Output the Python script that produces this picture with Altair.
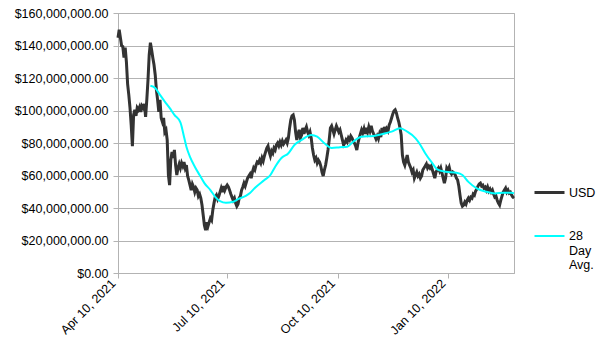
import altair as alt
import pandas as pd

start_date = "2021-04-10"

# Daily USD value (millions), from 2021-04-10 onward
usd_millions = [
    144.8, 149.7, 144.8, 139.9, 139.3, 132.5, 138.7, 130.0, 116.4, 109.6,
    101.6, 91.0, 78.0, 97.3, 100.4, 96.7, 101.6, 100.4, 102.2, 99.1,
    102.8, 101.6, 104.1, 96.1, 106.5, 118.9, 134.3, 141.7, 137.4, 132.5,
    128.1, 122.0, 112.7, 106.5, 99.1, 106.5, 95.4, 93.0, 95.4, 86.8,
    88.1, 81.9, 60.3, 54.1, 69.5, 74.5, 70.8, 75.7, 66.4, 60.3,
    64.6, 67.1, 64.6, 67.7, 65.8, 68.3, 64.6, 66.4, 59.7, 57.2,
    54.1, 51.0, 54.7, 52.9, 49.8, 52.2, 51.0, 47.3, 48.6, 46.1,
    41.8, 35.6, 29.4, 26.3, 31.3, 28.8, 31.3, 33.7, 32.5, 38.7,
    43.0, 46.7, 47.9, 45.5, 47.3, 49.8, 52.2, 49.8, 53.5, 51.0,
    52.9, 54.1, 52.9, 51.0, 48.6, 46.7, 44.8, 46.1, 43.0, 41.1,
    42.4, 46.1, 47.3, 51.0, 52.9, 55.3, 53.5, 56.0, 58.4, 59.7,
    60.9, 58.4, 62.1, 64.6, 63.4, 66.4, 68.3, 67.7, 69.5, 67.7,
    70.8, 68.9, 72.0, 74.5, 76.9, 78.2, 74.5, 72.0, 75.1, 73.8,
    76.9, 75.7, 78.8, 80.0, 78.2, 80.6, 78.8, 81.2, 79.4, 80.6,
    81.9, 80.0, 83.1, 89.3, 94.2, 96.7, 97.3, 94.2, 86.8, 81.9,
    85.6, 88.1, 83.1, 84.9, 89.3, 85.6, 88.1, 89.9, 86.8, 84.9,
    86.8, 83.1, 76.9, 72.6, 69.5, 70.8, 67.7, 69.5, 68.3, 65.8,
    62.1, 59.7, 63.4, 66.4, 70.8, 75.7, 81.9, 89.3, 90.5, 88.1,
    85.6, 88.1, 90.5, 88.7, 86.8, 88.1, 85.0, 81.9, 78.8, 80.0,
    81.9, 80.6, 83.1, 81.9, 84.3, 83.1, 81.2, 80.0, 78.2, 75.7,
    80.0, 83.1, 85.6, 88.1, 86.2, 88.7, 85.6, 89.3, 86.8, 89.9,
    87.4, 90.5, 87.4, 85.6, 84.3, 82.5, 84.3, 82.5, 85.6, 83.7,
    89.3, 85.6, 89.9, 86.2, 88.7, 87.4, 91.1, 92.9, 95.4, 97.9,
    99.7, 100.4, 98.5, 95.4, 92.9, 89.3, 85.0, 72.6, 68.3, 66.4,
    69.5, 72.6, 68.3, 66.4, 64.6, 62.1, 63.4, 58.4, 60.3, 62.1,
    59.7, 60.9, 58.4, 59.7, 63.4, 64.6, 65.8, 67.1, 64.6, 65.8,
    64.6, 65.8, 63.4, 60.9, 58.4, 62.1, 63.4, 64.6, 62.7, 64.6,
    61.5, 58.4, 55.3, 58.4, 64.6, 63.4, 65.2, 62.1, 60.9, 62.1,
    61.5, 60.3, 58.4, 57.2, 53.5, 47.9, 43.0, 41.1, 41.8, 43.6,
    42.4, 44.8, 46.1, 44.8, 46.7, 46.1, 48.6, 47.9, 50.4, 51.6,
    53.5, 54.7, 55.3, 53.5, 54.1, 52.2, 52.9, 51.0, 52.9, 50.4,
    51.6, 49.8, 51.0, 48.6, 46.7, 47.3, 44.8, 43.0, 41.8, 44.8,
    47.3, 49.8, 51.0, 52.2, 49.8, 51.0, 49.2, 49.8, 48.0, 46.7,
    46.1,
]

avg_dates = [
    "2021-05-07", "2021-05-11", "2021-05-15", "2021-05-19", "2021-05-23",
    "2021-05-27", "2021-06-01", "2021-06-04", "2021-06-06", "2021-06-09",
    "2021-06-13", "2021-06-17", "2021-06-21", "2021-06-26", "2021-06-30",
    "2021-07-04", "2021-07-09", "2021-07-15", "2021-07-19", "2021-07-25",
    "2021-07-29", "2021-08-02", "2021-08-10", "2021-08-15", "2021-08-19",
    "2021-08-24", "2021-08-30", "2021-09-04", "2021-09-10", "2021-09-18",
    "2021-09-23", "2021-09-29", "2021-10-05", "2021-10-12", "2021-10-18",
    "2021-10-23", "2021-10-30", "2021-11-09", "2021-11-19", "2021-11-24",
    "2021-12-01", "2021-12-07", "2021-12-14", "2021-12-18", "2021-12-22",
    "2021-12-28", "2022-01-01", "2022-01-08", "2022-01-17", "2022-01-22",
    "2022-01-27", "2022-02-03", "2022-02-11", "2022-02-18", "2022-02-25",
    "2022-03-04", "2022-03-06",
]
avg_millions = [
    115.2, 113.8, 109.6, 105.5, 101.6,
    97.3, 92.7, 83.9, 77.7, 71.5,
    65.4, 60.3, 55.3, 51.0, 46.9,
    44.2, 43.2, 43.8, 45.5, 47.3,
    49.2, 52.3, 57.2, 60.3, 65.4,
    70.6, 73.7, 78.8, 81.9, 84.9,
    83.9, 79.8, 76.9, 77.4, 77.7,
    80.8, 83.9, 84.3, 86.0, 87.0,
    89.1, 87.0, 82.9, 78.8, 73.7,
    67.5, 63.8, 62.3, 61.7, 60.3,
    56.1, 52.1, 50.0, 49.0, 49.4,
    49.4, 49.0,
]

series_names = ["USD", "28 Day Avg."]
series_colors = ["#333333", "#00ffff"]
y_ticks = [0, 20e6, 40e6, 60e6, 80e6, 100e6, 120e6, 140e6, 160e6]

df_usd = pd.DataFrame({
    "date": pd.date_range(start_date, periods=len(usd_millions), freq="D"),
    "value": [v * 1e6 for v in usd_millions],
    "series": "USD",
})
df_avg = pd.DataFrame({
    "date": pd.to_datetime(avg_dates),
    "value": [v * 1e6 for v in avg_millions],
    "series": "28 Day Avg.",
})
df = pd.concat([df_usd, df_avg], ignore_index=True)

FONT = "Liberation Sans"
GRID = "#b3b3b3"

x_ticks = [
    alt.DateTime(year=2021, month=4, date=10),
    alt.DateTime(year=2021, month=7, date=10),
    alt.DateTime(year=2021, month=10, date=10),
    alt.DateTime(year=2022, month=1, date=10),
]

legend = alt.Legend(
    title=None, orient="none", legendX=415, legendY=163,
    symbolType="stroke", symbolSize=900, symbolStrokeWidth=3,
    labelFont=FONT, labelFontSize=12.5, labelColor="#000000",
    labelOffset=3, rowPadding=21, padding=0,
    labelBaseline="middle",
    labelExpr="datum.label == '28 Day Avg.' ? ['28', 'Day', 'Avg.'] : datum.label",
)

enc = dict(
    x=alt.X(
        "date:T",
        scale=alt.Scale(domain=[alt.DateTime(year=2021, month=4, date=10),
                                alt.DateTime(year=2022, month=3, date=6)], nice=False),
        axis=alt.Axis(title=None, values=x_ticks, format="%b %-d, %Y",
                      labelAngle=315, labelAlign="right", labelBaseline="middle",
                      labelOffset=-5, grid=False, tickSize=5, labelPadding=3),
    ),
    y=alt.Y(
        "value:Q",
        scale=alt.Scale(domain=[0, 160e6], nice=False),
        axis=alt.Axis(title=None, values=y_ticks, format="$,.2f",
                      tickSize=5, labelPadding=5, grid=True),
    ),
    color=alt.Color("series:N",
                    scale=alt.Scale(domain=series_names, range=series_colors),
                    legend=legend),
    strokeWidth=alt.StrokeWidth("series:N",
                                scale=alt.Scale(domain=series_names, range=[3, 2]),
                                legend=legend),
)

usd_layer = alt.Chart(df).mark_line(interpolate="linear").encode(**enc).transform_filter(
    alt.datum.series == "USD")
avg_layer = alt.Chart(df).mark_line(interpolate="monotone").encode(**enc).transform_filter(
    alt.datum.series == "28 Day Avg.")

chart = alt.layer(usd_layer, avg_layer).properties(
    width=396, height=260,
    autosize=alt.AutoSizeParams(type="none"),
    padding={"left": 118, "top": 13, "right": 90, "bottom": 81},
    background="#ffffff",
).configure_view(
    stroke=GRID, strokeWidth=1,
).configure_axis(
    domainColor=GRID, tickColor=GRID, gridColor=GRID,
    labelFont=FONT, labelFontSize=12.5, labelColor="#000000",
)

chart.save("out.html", embed_options={"renderer": "svg", "actions": False})
